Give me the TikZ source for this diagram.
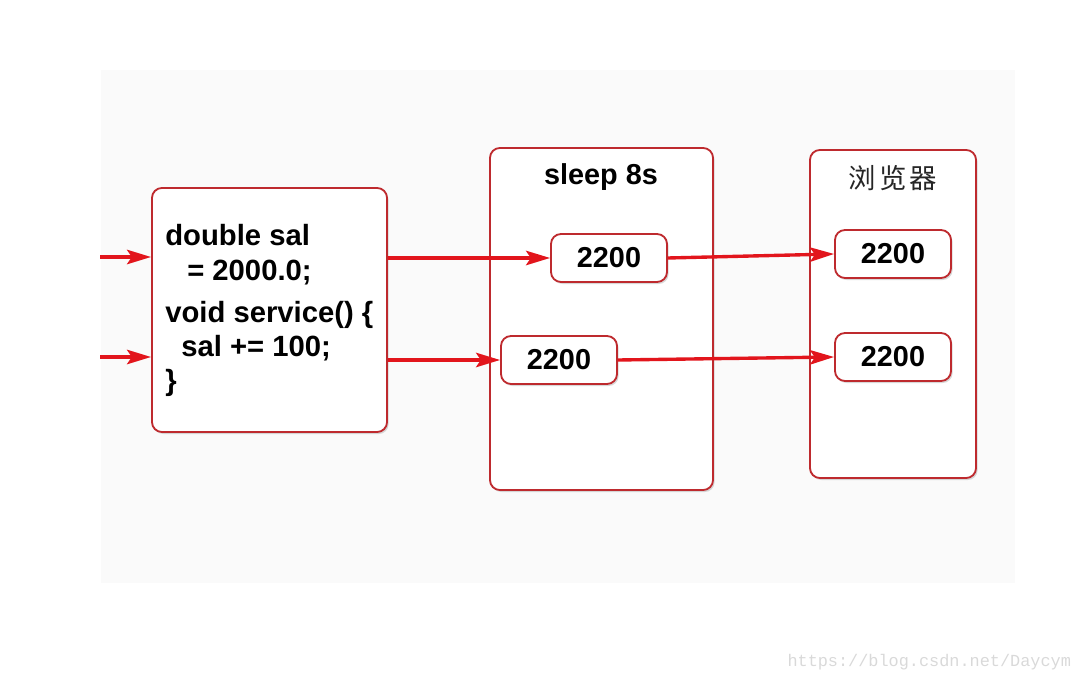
\documentclass[tikz,border=0pt]{standalone}
\usepackage{fontspec}
\setmainfont{Liberation Sans}
\newfontfamily\cjk{Noto Sans CJK SC}
\newfontfamily\wmfont{Liberation Mono}
\usetikzlibrary{arrows.meta,shadows}

\definecolor{boxred}{HTML}{BE2A2E}
\definecolor{arrred}{HTML}{E2151C}
\definecolor{bggray}{HTML}{FAFAFA}

\begin{document}
\begin{tikzpicture}[x=0.025cm,y=-0.025cm,
  frame/.style={draw=boxred, line width=1.3pt, rounded corners=0.25cm, fill=white,
    drop shadow={shadow xshift=0.04cm, shadow yshift=-0.05cm, opacity=0.3}},
  valbox/.style={frame, minimum width=2.9cm, minimum height=1.2cm, inner sep=0pt,
    font=\fontsize{20.5pt}{24pt}\selectfont\bfseries},
  flow/.style={draw=arrred, line width=2.4pt,
    -{Stealth[length=0.6cm, width=0.36cm, inset=0.12cm]}}]
%\draw[help lines] (0,0) grid[step=50] (1081,682);

\useasboundingbox (0,0) rectangle (1081,682);
\fill[bggray] (101,70) rectangle (1015,583);

% the three columns
\node[frame, minimum width=5.875cm, minimum height=6.1cm] (code) at (269.5,310) {};
\node[frame, minimum width=5.575cm, minimum height=8.55cm] (sleep) at (601.5,319) {};
\node[frame, minimum width=4.15cm, minimum height=8.2cm] (browser) at (893,314) {};

\node[anchor=north west, inner sep=0pt, align=left,
  font=\fontsize{20.8pt}{24.2pt}\selectfont\bfseries] (codetxt) at (165,224.5)
  {double sal\\
   \hspace*{0.55cm}= 2000.0;\\[0.2cm]
   void service() \{\\
   \hspace*{0.4cm}sal += 100;\\
   \}};

\node[font=\fontsize{20.5pt}{24pt}\selectfont\bfseries] (sleeptitle) at (601,177) {sleep 8s};
\node[font=\cjk\fontsize{19.5pt}{23pt}\selectfont, text=black!85] (browsertitle) at (893,178)
  {浏\hspace{0.08cm}览\hspace{0.08cm}器};

% values
\node[valbox] (s1) at (609,258) {2200};
\node[valbox] (s2) at (559,360) {2200};
\node[valbox] (b1) at (893,254) {2200};
\node[valbox] (b2) at (893,357) {2200};

% arrows
\coordinate (in1) at (100,257);
\coordinate (in2) at (100,357);
\draw[flow] (in1) -- (in1 -| code.west);
\draw[flow] (in2) -- (in2 -| code.west);
\draw[flow] (code.east |- s1.west) -- (s1.west);
\draw[flow] (code.east |- s2.west) -- (s2.west);
\draw[flow] (s1.east) -- (b1.west);
\draw[flow] (s2.east) -- (b2.west);

\node[anchor=east, font=\wmfont\fontsize{12pt}{14pt}\selectfont, text=black!15] (mark)
  at (1076,662) {https://blog.csdn.net/Daycym};
\end{tikzpicture}
\end{document}
